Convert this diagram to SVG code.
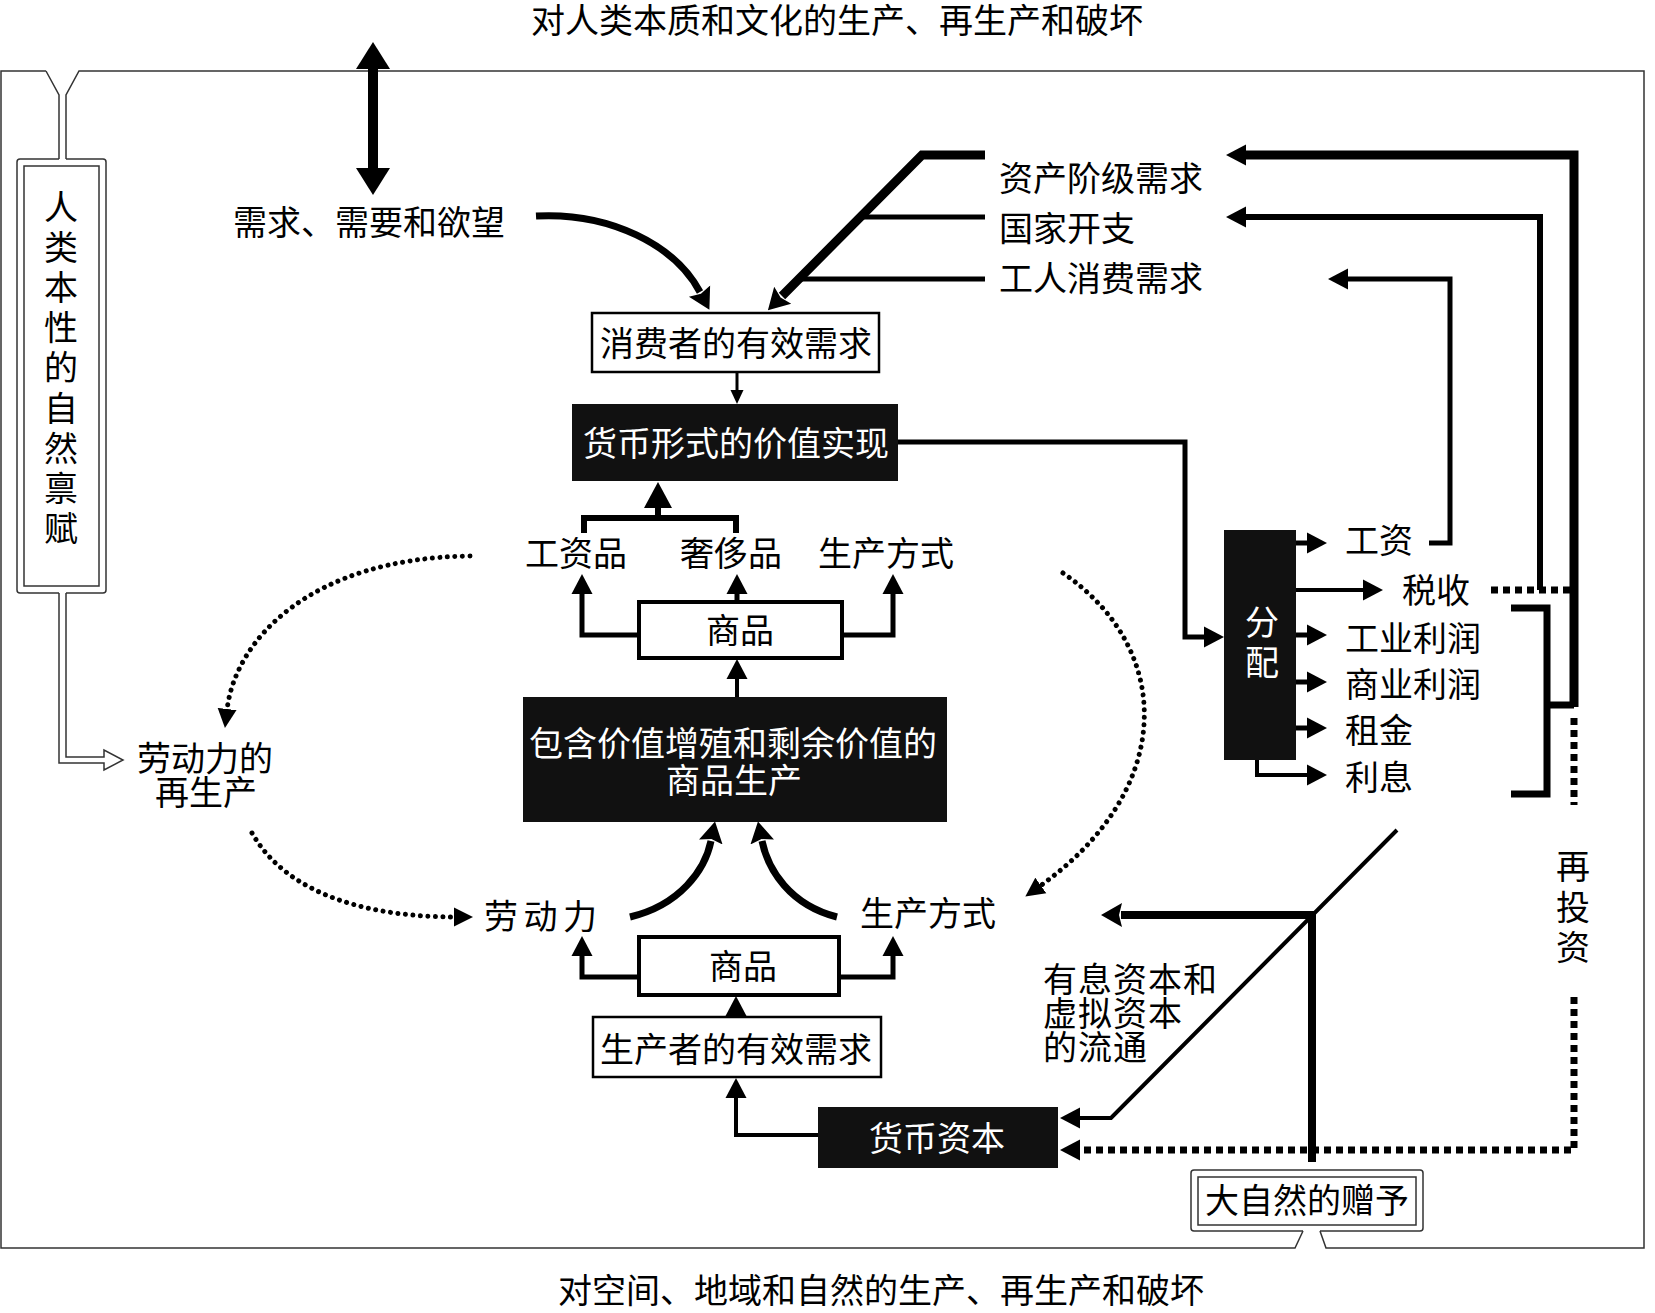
<svg xmlns="http://www.w3.org/2000/svg" width="1655" height="1313" viewBox="0 0 1655 1313">
<style>
.t{font-family:"Liberation Serif","Noto Sans CJK SC",serif;font-size:34px;fill:#000}
.w{fill:#fff}
.m{text-anchor:middle}
.ln{fill:none;stroke:#000;stroke-linejoin:miter;stroke-linecap:butt}
.fr{fill:none;stroke:#333;stroke-width:1.5}
.dot{fill:none;stroke:#000;stroke-width:5;stroke-linecap:round;stroke-dasharray:0.01 7.5}
.sq{fill:none;stroke:#000;stroke-width:7;stroke-dasharray:7 5}
.bx{fill:#fff;stroke:#000}
.bk{fill:#111}
</style>
<defs>
<marker id="big" markerUnits="userSpaceOnUse" markerWidth="28" markerHeight="36" refX="0" refY="18" orient="auto-start-reverse"><path d="M0,1 L27,18 L0,35 Z" fill="#000"/></marker>
<marker id="thk" markerUnits="userSpaceOnUse" markerWidth="21" markerHeight="26" refX="1" refY="13" orient="auto"><path d="M0,1 L21,13 L0,25 L3,13 Z" fill="#000"/></marker>
<marker id="med" markerUnits="userSpaceOnUse" markerWidth="20" markerHeight="22" refX="1" refY="11" orient="auto"><path d="M0,0.5 L20,11 L0,21.5 Z" fill="#000"/></marker>
<marker id="up" markerUnits="userSpaceOnUse" markerWidth="26" markerHeight="30" refX="1" refY="15" orient="auto"><path d="M0,1 L26,15 L0,29 Z" fill="#000"/></marker>
<marker id="sm" markerUnits="userSpaceOnUse" markerWidth="14" markerHeight="14" refX="1" refY="7" orient="auto"><path d="M0,0.5 L14,7 L0,13.5 Z" fill="#000"/></marker>
<marker id="dt" markerUnits="userSpaceOnUse" markerWidth="19" markerHeight="20" refX="1" refY="10" orient="auto"><path d="M0,0.5 L19,10 L0,19.5 Z" fill="#000"/></marker>
</defs>
<rect width="1655" height="1313" fill="#fff"/>

<g id="frame">
<path class="fr" d="M46,71 H1 V1248 H1295 L1303,1231 M1320,1231 L1326,1248 H1644 V71 H79 L66,95 V159 M59,159 V95 L46,71"/>
</g>

<g id="titles">
<text class="t m" x="837" y="33">对人类本质和文化的生产、再生产和破坏</text>
<text class="t m" x="881" y="1303">对空间、地域和自然的生产、再生产和破坏</text>
</g>

<g id="node-human-nature">
<path class="fr" d="M59,159 H20 Q17,159 17,162 V590 Q17,593 20,593 H59 M66,593 H103 Q106,593 106,590 V162 Q106,159 103,159 H66"/>
<rect class="fr" x="24" y="166" width="75" height="420"/>
<path class="fr" fill="#fff" d="M59,593 V763 H104 V770 L123,760 L104,750 V757 H66 V593"/>
<text class="t m" font-size="32" x="61"><tspan x="61" y="220">人</tspan><tspan x="61" y="260">类</tspan><tspan x="61" y="300">本</tspan><tspan x="61" y="340">性</tspan><tspan x="61" y="380">的</tspan><tspan x="61" y="421">自</tspan><tspan x="61" y="461">然</tspan><tspan x="61" y="501">禀</tspan><tspan x="61" y="541">赋</tspan></text>
</g>

<g id="node-wants"><text class="t m" x="369" y="235">需求、需要和欲望</text></g>
<g id="node-consumer-demand"><rect class="bx" stroke-width="2.5" x="592" y="313" width="287" height="59"/><text class="t m" x="736" y="356">消费者的有效需求</text></g>
<g id="node-bourgeois"><text class="t" x="999" y="191">资产阶级需求</text></g>
<g id="node-state"><text class="t" x="999" y="241">国家开支</text></g>
<g id="node-worker"><text class="t" x="999" y="291">工人消费需求</text></g>
<g id="node-realization"><rect class="bk" x="572" y="404" width="326" height="77"/><text class="t m w" x="736" y="456">货币形式的价值实现</text></g>
<g id="node-wage-goods"><text class="t m" x="576" y="566">工资品</text></g>
<g id="node-luxury"><text class="t m" x="731" y="566">奢侈品</text></g>
<g id="node-means-top"><text class="t m" x="886" y="566">生产方式</text></g>
<g id="node-commodity-top"><rect class="bx" stroke-width="4" x="639" y="602" width="203" height="56"/><text class="t m" x="740" y="643">商品</text></g>
<g id="node-production"><rect class="bk" x="523" y="697" width="424" height="125"/><text class="t m w" x="733" y="756">包含价值增殖和剩余价值的</text><text class="t m w" x="734" y="793">商品生产</text></g>
<g id="node-labour-repro"><text class="t m" x="205" y="771">劳动力的</text><text class="t m" x="206" y="805">再生产</text></g>
<g id="node-labour"><text class="t" x="484" y="929" letter-spacing="5.5">劳动力</text></g>
<g id="node-means-bottom"><text class="t m" x="928" y="926">生产方式</text></g>
<g id="node-commodity-bottom"><rect class="bx" stroke-width="4" x="639" y="937" width="200" height="58"/><text class="t m" x="743" y="979">商品</text></g>
<g id="node-producer-demand"><rect class="bx" stroke-width="2.5" x="593" y="1017" width="288" height="60"/><text class="t m" x="736" y="1062">生产者的有效需求</text></g>
<g id="node-money-capital"><rect class="bk" x="818" y="1107" width="240" height="61"/><text class="t m w" x="937" y="1151">货币资本</text></g>
<g id="node-interest-capital"><text class="t" font-size="31" letter-spacing="1" x="1043"><tspan x="1043" y="992">有息资本和</tspan><tspan x="1043" y="1026">虚拟资本</tspan><tspan x="1043" y="1060">的流通</tspan></text></g>
<g id="node-nature-gift">
<path class="fr" d="M1303,1231 H1194 Q1191,1231 1191,1228 V1173 Q1191,1170 1194,1170 H1420 Q1423,1170 1423,1173 V1228 Q1423,1231 1420,1231 H1320"/>
<rect class="fr" x="1198" y="1177" width="218" height="48"/>
<text class="t m" x="1307" y="1213">大自然的赠予</text>
</g>
<g id="node-reinvest"><text class="t m"><tspan x="1573" y="879">再</tspan><tspan x="1573" y="920">投</tspan><tspan x="1573" y="960">资</tspan></text></g>
<g id="node-distribution"><rect class="bk" x="1224" y="530" width="72" height="230"/><text class="t m w"><tspan x="1262" y="635">分</tspan><tspan x="1262" y="675">配</tspan></text></g>
<g id="node-wages"><text class="t" x="1345" y="553">工资</text></g>
<g id="node-taxes"><text class="t" x="1402" y="603">税收</text></g>
<g id="node-ind-profit"><text class="t" x="1345" y="651">工业利润</text></g>
<g id="node-com-profit"><text class="t" x="1345" y="697">商业利润</text></g>
<g id="node-rent"><text class="t" x="1345" y="743">租金</text></g>
<g id="node-interest"><text class="t" x="1345" y="790">利息</text></g>

<g id="connectors">
<path class="ln" stroke-width="10" d="M373,69 V168" marker-start="url(#big)" marker-end="url(#big)"/>
<path class="ln" stroke-width="7" d="M536,216 C610,212 675,245 700,292" marker-end="url(#thk)"/>
<path class="ln" stroke-width="9" d="M985,155 H922 L782,296" marker-end="url(#thk)"/>
<path class="ln" stroke-width="5" d="M985,217 H858 M985,279 H796"/>
<path class="ln" stroke-width="3" d="M737,372 V391" marker-end="url(#sm)"/>
<path class="ln" stroke-width="6" d="M584,533 V518 H736 V533 M658,518 V507" marker-end="url(#up)"/>
<path class="ln" stroke-width="5" d="M639,635 H582 V593" marker-end="url(#med)"/>
<path class="ln" stroke-width="5" d="M842,635 H893 V593" marker-end="url(#med)"/>
<path class="ln" stroke-width="5" d="M737,602 V593" marker-end="url(#med)"/>
<path class="ln" stroke-width="4" d="M737,697 V678" marker-end="url(#med)"/>
<path class="ln" stroke-width="7" d="M630,917 C680,905 705,870 711,841" marker-end="url(#thk)"/>
<path class="ln" stroke-width="7" d="M837,917 C790,905 768,870 762,841" marker-end="url(#thk)"/>
<path class="ln" stroke-width="5" d="M639,977 H582 V955" marker-end="url(#med)"/>
<path class="ln" stroke-width="5" d="M839,977 H893 V955" marker-end="url(#med)"/>
<path class="ln" stroke-width="4" d="M736,1017 V1015" marker-end="url(#med)"/>
<path class="ln" stroke-width="4" d="M818,1135 H736 V1097" marker-end="url(#med)"/>
<path class="ln" stroke-width="5" d="M898,442 H1185 V637 H1205" marker-end="url(#med)"/>
<path class="ln" stroke-width="5" d="M1296,543 H1308" marker-end="url(#med)"/>
<path class="ln" stroke-width="4" d="M1296,590 H1364" marker-end="url(#med)"/>
<path class="ln" stroke-width="5" d="M1296,635 H1308" marker-end="url(#med)"/>
<path class="ln" stroke-width="5" d="M1296,682 H1308" marker-end="url(#med)"/>
<path class="ln" stroke-width="5" d="M1296,728 H1308" marker-end="url(#med)"/>
<path class="ln" stroke-width="4" d="M1257,760 V775 H1308" marker-end="url(#med)"/>
<path class="ln" stroke-width="5" d="M1429,543 H1450 V279 H1347" marker-end="url(#med)"/>
<path class="ln" stroke-width="6" d="M1540,590 V217 H1245" marker-end="url(#med)"/>
<path class="ln" stroke-width="9" d="M1574,707 V155 H1245" marker-end="url(#med)"/>
<path class="ln" stroke-width="7" d="M1511,608 H1547 V794 H1511 M1547,705 H1574"/>
<path class="sq" stroke-width="6" d="M1491,590 H1574"/>
<path class="sq" d="M1574,718 V805"/>
<path class="sq" d="M1574,997 V1150 H1079" marker-end="url(#med)"/>
<path class="ln" stroke-width="4" d="M1397,830 L1111,1118 H1079" marker-end="url(#med)"/>
<path class="ln" stroke-width="8" d="M1312,1162 V915 H1121" marker-end="url(#thk)"/>
<path class="dot" d="M470,556 C310,558 235,640 227,710" marker-end="url(#dt)"/>
<path class="dot" d="M252,833 C290,900 380,917 455,917" marker-end="url(#dt)"/>
<path class="dot" d="M1063,573 C1175,650 1175,790 1040,886" marker-end="url(#dt)"/>
</g>
</svg>
